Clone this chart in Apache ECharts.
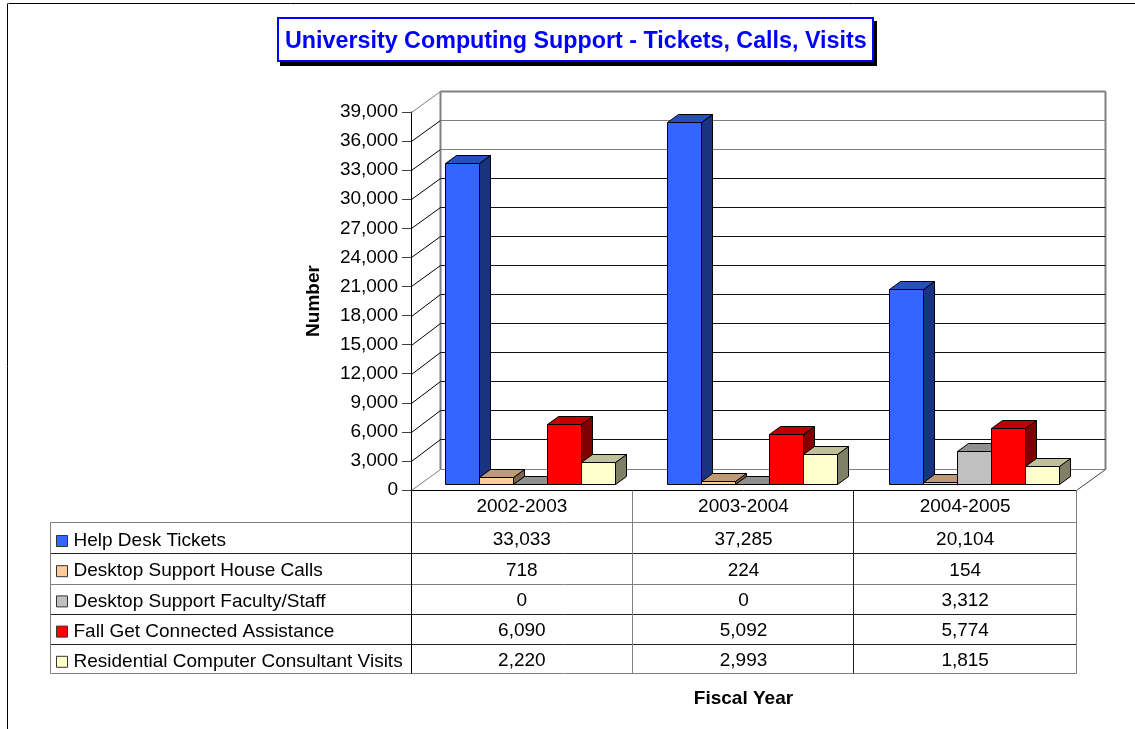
<!DOCTYPE html>
<html><head><meta charset="utf-8">
<style>html,body{margin:0;padding:0;background:#fff}#c{width:1135px;height:729px}</style>
<script src="https://cdn.jsdelivr.net/npm/echarts@6/dist/echarts.min.js"></script>
</head><body><div id="c"></div>
<script>
const years = ['2002-2003','2003-2004','2004-2005'];
const seriesNames = ['Help Desk Tickets','Desktop Support House Calls','Desktop Support Faculty/Staff','Fall Get Connected Assistance','Residential Computer Consultant Visits'];
const helpDesk = [33033,37285,20104];
const houseCalls = [718,224,154];
const facultyStaff = [0,0,3312];
const getConnected = [6090,5092,5774];
const residential = [2220,2993,1815];
const allValues = [helpDesk,houseCalls,facultyStaff,getConnected,residential];
const yTicks = [0,3000,6000,9000,12000,15000,18000,21000,24000,27000,30000,33000,36000,39000];

const FRONT = ['#3366FF','#FFCC99','#C0C0C0','#FF0000','#FFFFCC'];
const TOP   = ['#2650C0','#C09A73','#909090','#C00000','#C0C099'];
const SIDE  = ['#1A3380','#806650','#606060','#800000','#808066'];
const FAMILY = '"Liberation Sans", Arial, sans-serif';
const FONT = '19px ' + FAMILY;
const WDX = 29, WDY = 21.5;       // wall depth
const BOX = 8.5, BOY = 6.5;       // bar front-plane offset
const BDX = 11, BDY = 8;          // bar depth
const BW = 34;

function snap(v){ return Math.round(v)+0.5; }

function barSeries(i){
  return {
    type:'custom', name:seriesNames[i], coordinateSystem:'cartesian2d',
    xAxisIndex:0, yAxisIndex:0, z:5,
    itemStyle:{color:FRONT[i], borderColor:'#000', borderWidth:1},
    data: allValues[i].map((v,k)=>[k,v]),
    encode:{x:0,y:1},
    renderItem(params,api){
      const c = api.coord([api.value(0),api.value(1)]);
      const base = api.coord([api.value(0),0]);
      const x0 = snap(c[0]+BOX+(i-2.5)*BW);
      const x1 = snap(c[0]+BOX+(i-1.5)*BW);
      const yb = snap(base[1]-BOY);
      const yt = snap(c[1]-BOY);
      const st = f=>({fill:f,stroke:'#000',lineWidth:1,lineJoin:'round'});
      return {type:'group',children:[
        {type:'polygon',shape:{points:[[x1,yb],[x1+BDX,yb-BDY],[x1+BDX,yt-BDY],[x1,yt]]},style:st(SIDE[i])},
        {type:'polygon',shape:{points:[[x0,yt],[x0+BDX,yt-BDY],[x1+BDX,yt-BDY],[x1,yt]]},style:st(TOP[i])},
        {type:'rect',shape:{x:x0,y:yt,width:x1-x0,height:yb-yt},style:st(FRONT[i])}
      ]};
    }
  };
}

const wallSeries = {
  type:'custom', name:'walls', coordinateSystem:'cartesian2d', xAxisIndex:0, yAxisIndex:0, z:1, silent:true,
  data: yTicks.map(v=>[0,v]),
  encode:{x:0,y:1},
  renderItem(params,api){
    const v = api.value(1);
    const c = api.coord([0,v]), r = api.coord([2,v]);
    const band = api.size([1,0])[0];
    const xl = Math.round(c[0]-band/2)+0.5, xr = Math.round(r[0]+band/2)+0.5;
    const y = Math.round(c[1])+0.5, yB = Math.round(c[1]-WDY)+0.5;
    const hCol = v>=33000?'#808080':'#111';
    const sCol = v===39000||v===0?'#808080':'#000';
    const kids = [];
    if(v>0){
      kids.push({type:'line',shape:{x1:xl,y1:y,x2:xl+WDX,y2:yB},style:{stroke:sCol,lineWidth:1}});
      kids.push({type:'line',shape:{x1:xl+WDX,y1:yB,x2:xr+WDX,y2:yB},style:{stroke:hCol,lineWidth:v===39000?2:1}});
    }
    if(v===0){
      const top = api.coord([0,39000])[1];
      const yTop = Math.round(top-WDY)+0.5;
      kids.push({type:'polyline',shape:{points:[[xl,y],[xl+WDX,yB],[xr+WDX,yB]]},style:{fill:null,stroke:'#808080',lineWidth:1}});
      kids.push({type:'line',shape:{x1:xl+WDX,y1:yB,x2:xl+WDX,y2:yTop},style:{stroke:'#808080',lineWidth:2}});
      kids.push({type:'line',shape:{x1:xr+WDX,y1:yB,x2:xr+WDX,y2:yTop},style:{stroke:'#808080',lineWidth:2}});
      kids.push({type:'line',shape:{x1:xr,y1:y,x2:xr+WDX,y2:yB},style:{stroke:'#404040',lineWidth:1}});
    }
    return {type:'group',children:kids};
  }
};

const tableCells = [];
allValues.forEach((arr,row)=>arr.forEach((v,col)=>tableCells.push([col,row,v])));
const tableSeries = {
  type:'custom', name:'table', coordinateSystem:'cartesian2d', xAxisIndex:1, yAxisIndex:1, z:6, silent:true,
  data: tableCells,
  encode:{x:0,y:1},
  renderItem(params,api){
    const c = api.coord([api.value(0),api.value(1)]);
    return {type:'text',x:c[0],y:c[1],style:{text:api.value(2).toLocaleString('en-US'),textAlign:'center',textVerticalAlign:'middle',font:FONT,fill:'#000'}};
  }
};

// table, frame and title-shadow decoration
const G = '#808080', D = '#222';
function ln(x1,y1,x2,y2,c){return {type:'line',silent:true,z:3,shape:{x1:x1+.5,y1:y1+.5,x2:x2+.5,y2:y2+.5},style:{stroke:c,lineWidth:1}};}
const rules = [
  {type:'rect',silent:true,z:1,shape:{x:280,y:21,width:597,height:45},style:{fill:'#000'}},
  ln(8,3,1135,3,'#000'), ln(7,3,7,729,'#000'),
  ln(50,522,1076,522,G), ln(50,553,1076,553,D), ln(50,584,1076,584,G), ln(50,614,1076,614,D), ln(50,644,1076,644,D), ln(50,673,1076,673,G),
  ln(50,522,50,673,G), ln(411,490,411,673,'#000'), ln(632,490,632,673,G), ln(853,490,853,673,D), ln(1076,490,1076,673,G)
];

const chart = echarts.init(document.getElementById('c'));
chart.setOption({
  animation:false,
  backgroundColor:'#fff',
  textStyle:{fontFamily:FAMILY},
  title:{
    text:'University Computing Support - Tickets, Calls, Visits',
    left:278, top:18, padding:[12,7,8,7], z:8,
    backgroundColor:'#fff', borderColor:'#0000FF', borderWidth:2,
    textStyle:{color:'#0000FF',fontSize:23.3,fontWeight:'bold',fontFamily:FAMILY}
  },
  legend:{
    show:true, data:seriesNames, orient:'vertical', left:56, top:530.5, selectedMode:false,
    icon:'rect', itemWidth:11, itemHeight:11, itemGap:9.2, padding:0,
    itemStyle:{borderColor:'#333',borderWidth:1},
    textStyle:{color:'#000',fontSize:19,lineHeight:21,padding:[0,0,0,1],fontFamily:FAMILY}
  },
  grid:[
    {left:411,top:112,width:665,height:378},
    {left:411,top:525,width:665,height:151}
  ],
  xAxis:[
    {type:'category',gridIndex:0,data:years,axisTick:{show:false},
     axisLine:{lineStyle:{color:'#000',width:1}},
     axisLabel:{color:'#000',fontSize:19,margin:7},
     name:'Fiscal Year',nameLocation:'middle',nameGap:199,
     nameTextStyle:{color:'#000',fontSize:19,fontWeight:'bold'}},
    {type:'category',gridIndex:1,data:years,show:false}
  ],
  yAxis:[
    {type:'value',gridIndex:0,min:0,max:39000,interval:3000,
     axisLine:{show:true,lineStyle:{color:'#000',width:1}},
     axisTick:{show:true,length:9,lineStyle:{color:'#404040'}},
     splitLine:{show:false},
     axisLabel:{color:'#000',fontSize:19,margin:13,padding:[2,0,0,0]},
     name:'Number',nameLocation:'middle',nameGap:87.5,
     nameTextStyle:{color:'#000',fontSize:19,fontWeight:'bold'}},
    {type:'category',gridIndex:1,data:seriesNames,inverse:true,show:false}
  ],
  series:[wallSeries,...allValues.map((_,i)=>barSeries(i)),tableSeries],
  graphic:rules
});
</script></body></html>
